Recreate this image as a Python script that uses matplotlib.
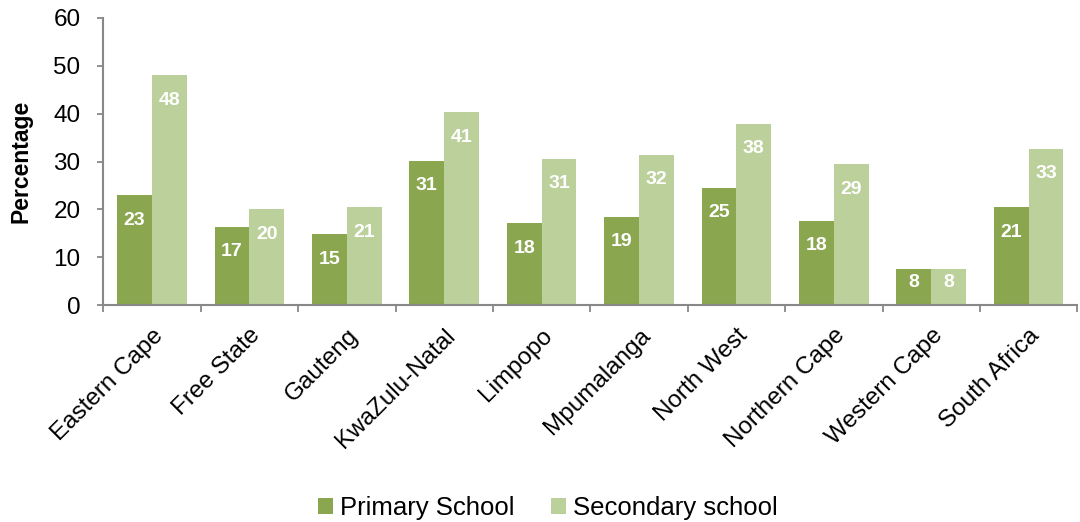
import matplotlib
matplotlib.use("Agg")
import matplotlib.pyplot as plt
from matplotlib.patches import Patch
import numpy as np

plt.rcParams['font.family'] = ['Liberation Sans', 'DejaVu Sans']

categories = ["Eastern Cape", "Free State", "Gauteng", "KwaZulu-Natal", "Limpopo",
              "Mpumalanga", "North West", "Northern Cape", "Western Cape", "South Africa"]
primary = [22.9, 16.4, 14.8, 30.2, 17.1, 18.4, 24.5, 17.6, 7.5, 20.4]
secondary = [48.0, 20.0, 20.4, 40.3, 30.6, 31.4, 37.9, 29.4, 7.5, 32.6]
primary_labels = ["23", "17", "15", "31", "18", "19", "25", "18", "8", "21"]
secondary_labels = ["48", "20", "21", "41", "31", "32", "38", "29", "8", "33"]
series_names = ["Primary School", "Secondary school"]
yticks = [0, 10, 20, 30, 40, 50, 60]

c_prim = "#8AA64E"
c_sec = "#BBD09A"
spine_c = "#888888"

fig = plt.figure(figsize=(10.8, 5.22), dpi=100)
ax = fig.add_axes([103.3 / 1080, 1 - 305 / 522, 974 / 1080, 287 / 522])

x = np.arange(len(categories))
w = 0.357
b1 = ax.bar(x - w / 2, primary, width=w, color=c_prim, zorder=2)
b2 = ax.bar(x + w / 2, secondary, width=w, color=c_sec, zorder=2)

def add_labels(bars, labels):
    for bar, lab in zip(bars, labels):
        h = bar.get_height()
        off = min(5.2, h * 0.36)
        ax.text(bar.get_x() + bar.get_width() / 2, h - off, lab,
                ha='center', va='center', color='white', fontsize=14,
                fontweight='bold', zorder=3)

add_labels(b1, primary_labels)
add_labels(b2, secondary_labels)

ax.set_xlim(-0.5, len(categories) - 0.5)
ax.set_ylim(0, 60)
ax.set_yticks(yticks)
ax.set_yticklabels([str(v) for v in yticks], fontsize=17.5)

ax.set_xticks(np.arange(len(categories) + 1) - 0.5)
ax.set_xticklabels([])
ax.set_xticks(x, minor=True)
ax.set_xticklabels(categories, minor=True, rotation=45, ha='right', va='top',
                   rotation_mode='anchor', fontsize=17.5)
ax.tick_params(axis='x', which='minor', length=0, pad=14)
ax.tick_params(axis='x', which='major', length=5, width=1.3, color=spine_c, direction='out')
ax.tick_params(axis='y', length=4.5, width=1.3, color=spine_c, direction='out', pad=12)

for s in ['top', 'right']:
    ax.spines[s].set_visible(False)
for s in ['left', 'bottom']:
    ax.spines[s].set_color(spine_c)
    ax.spines[s].set_linewidth(1.5)

ax.set_ylabel("Percentage", fontsize=16.5, fontweight='bold')
ax.yaxis.set_label_coords(-(103.3 - 33.0) / 974, 0.5)

handles = [Patch(facecolor=c_prim), Patch(facecolor=c_sec)]
fig.legend(handles, series_names, loc='center', bbox_to_anchor=(548 / 1080, 1 - 508 / 522),
           ncol=2, frameon=False, fontsize=18.5, handlelength=0.56, handleheight=0.56,
           handletextpad=0.28, columnspacing=1.44, borderaxespad=0, borderpad=0)

fig.savefig("out.png", dpi=100)
